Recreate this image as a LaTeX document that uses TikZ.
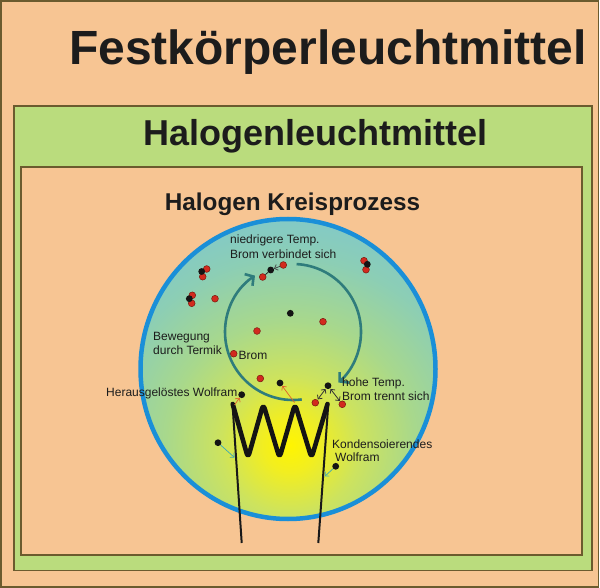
\documentclass[tikz,border=0pt]{standalone}
\usepackage{fontspec}
\setmainfont{Liberation Sans}
\usetikzlibrary{arrows.meta}
\definecolor{peach}{HTML}{F7C593}
\definecolor{lgreen}{HTML}{BADC7D}
\definecolor{framec}{HTML}{6B5B2E}
\definecolor{bulbblue}{HTML}{1A8FD8}
\definecolor{cycc}{HTML}{2F7C7C}
\definecolor{redd}{HTML}{D22A1E}
\definecolor{redo}{HTML}{7A1A10}
\definecolor{orarr}{HTML}{E0602A}
\definecolor{tealarr}{HTML}{3AA8B8}
\definecolor{txt}{HTML}{1C1C1C}
\definecolor{sA}{HTML}{FFF500}
\definecolor{sB}{HTML}{F2EE20}
\definecolor{sC}{HTML}{CDE35E}
\definecolor{sD}{HTML}{A8D88C}
\definecolor{sE}{HTML}{8CCEB5}
\definecolor{sF}{HTML}{80C8CC}
\pgfdeclareradialshading{bulbshade}{\pgfpoint{0bp}{0bp}}{color(0bp)=(sA); color(2.8bp)=(sB); color(7.2bp)=(sC); color(13bp)=(sD); color(19.5bp)=(sE); color(25bp)=(sF); color(50bp)=(sF)}
\begin{document}
\begin{tikzpicture}[x=1pt,y=-1pt,
  framebox/.style={draw=framec,line width=1.5pt},
  rdot/.style={circle,fill=redd,draw=redo,line width=0.5pt,minimum size=6.8pt,inner sep=0pt},
  bdot/.style={circle,fill=black!92,minimum size=6.8pt,inner sep=0pt},
  lbl/.style={anchor=base west,inner sep=0pt,text=txt,font=\fontsize{12}{14}\selectfont},
  cyc/.style={draw=cycc,line width=2.6pt,-{Straight Barb[length=6pt,width=14pt]}},
  oarr/.style={draw=orarr,line width=0.7pt,-{Straight Barb[length=3pt,width=6pt]}},
  tarr/.style={draw=tealarr,line width=0.7pt,-{Straight Barb[length=3pt,width=6pt]}},
  darr/.style={draw=black!80,line width=0.8pt,{Straight Barb[length=3pt,width=6pt]}-{Straight Barb[length=3pt,width=6pt]}},
  sarr/.style={draw=black!75,line width=0.7pt,-{Straight Barb[length=3pt,width=6pt]}},
  wire/.style={draw=black!90,line width=2pt},
  coilst/.style={draw=black!92,line width=4.6pt,rounded corners=5pt,line cap=round,line join=round}
]
\useasboundingbox (0,0) rectangle (600,588);
% frames
\draw[framebox,fill=peach] (1,1) rectangle (598.5,587);
\draw[framebox,fill=lgreen] (14,106) rectangle (592,570.5);
\draw[framebox,fill=peach] (21,167) rectangle (582,555);
% titles
\node[anchor=base,inner sep=0pt,text=txt,font=\bfseries\fontsize{48}{50}\selectfont] (t1) at (328,65) {Festkörperleuchtmittel};
\node[anchor=base,inner sep=0pt,text=txt,font=\bfseries\fontsize{36}{38}\selectfont] (t2) at (315.5,146) {Halogenleuchtmittel};
\node[anchor=base,inner sep=0pt,text=txt,font=\bfseries\fontsize{24.3}{26}\selectfont] (t3) at (292.5,210.5) {Halogen Kreisprozess};
% bulb
\begin{scope}
\clip (288,369) ellipse [x radius=147.5, y radius=150];
\shade[shading=bulbshade] (290,445) circle [radius=240];
\end{scope}
\draw[draw=bulbblue,line width=4.5pt] (288,369) ellipse [x radius=147.5, y radius=150];
% wires and coil
\coordinate (wl1) at (232.5,404);
\coordinate (wl2) at (241.7,543);
\coordinate (wr1) at (328.3,404);
\coordinate (wr2) at (318.3,543);
\draw[wire] (wl1) -- (wl2);
\draw[wire] (wr1) -- (wr2);
\draw[coilst] (232.7,404) -- (248,458) -- (263.3,404) -- (279.5,458) -- (295,404) -- (311.5,458) -- (327.5,404);
% cycle arrows
\draw[cyc] (293,332) ++(-87:68) arc[start angle=-87, end angle=48, radius=68];
\draw[cyc] (293,332) ++(82.6:68) arc[start angle=82.6, end angle=236, radius=68];
% red dots
\node[rdot] (r1) at (283.3,265) {};
\node[rdot] (r2) at (262.7,277) {};
\node[rdot] (r3) at (206.7,269) {};
\node[rdot] (r4) at (202.7,276.7) {};
\node[rdot] (r5) at (192.3,295.3) {};
\node[rdot] (r6) at (191.7,303.3) {};
\node[rdot] (r7) at (215,298.7) {};
\node[rdot] (r8) at (364,260.7) {};
\node[rdot] (r9) at (366,269.7) {};
\node[rdot] (r10) at (323,321.7) {};
\node[rdot] (r11) at (257,331) {};
\node[rdot] (r12) at (233.7,353.7) {};
\node[rdot] (r13) at (260.3,378.5) {};
\node[rdot] (r14) at (315.3,402.7) {};
\node[rdot] (r15) at (342.3,404.3) {};
% black dots
\node[bdot] (b1) at (270.7,270) {};
\node[bdot] (b2) at (201.7,271.5) {};
\node[bdot] (b3) at (189.3,298.7) {};
\node[bdot] (b4) at (367.3,264.3) {};
\node[bdot] (b5) at (290.3,313.3) {};
\node[bdot] (b6) at (280,383) {};
\node[bdot] (b7) at (328,385.7) {};
\node[bdot] (b8) at (241.7,394.7) {};
\node[bdot] (b9) at (218,442.7) {};
\node[bdot] (b10) at (335.7,466.3) {};
% small arrows
\draw[sarr] (r1) -- (b1);
\draw[wire,line width=0.7pt] (b1) -- (r2);
\coordinate (co1) at (234.5,405);
\coordinate (co2) at (294.5,402.5);
\draw[oarr] (co1) -- (b8);
\draw[oarr] (co2) -- (b6);
\draw[darr,shorten <=0.5pt,shorten >=0.5pt] (b7) -- (r14);
\draw[darr,shorten <=0.5pt,shorten >=0.5pt] (b7) -- (r15);
\coordinate (ct1) at (234.5,457.5);
\coordinate (ct2) at (324.8,476.3);
\draw[tarr] (b9) -- (ct1);
\draw[tarr] (b10) -- (ct2);
% labels
\node[lbl] (l1) at (230,244) {niedrigere Temp.};
\node[lbl] (l2) at (230,258.5) {Brom verbindet sich};
\node[lbl] (l3) at (153,340) {Bewegung};
\node[lbl] (l4) at (153,354) {durch Termik};
\node[lbl] (l5) at (238.5,359) {Brom};
\node[lbl] (l6) at (106,396.5) {Herausgelöstes Wolfram};
\node[lbl] (l7) at (342,386.5) {hohe Temp.};
\node[lbl] (l8) at (342,400.5) {Brom trennt sich};
\node[lbl] (l9) at (332,448.3) {Kondensoierendes};
\node[lbl] (l10) at (335,461) {Wolfram};
\end{tikzpicture}
\end{document}
